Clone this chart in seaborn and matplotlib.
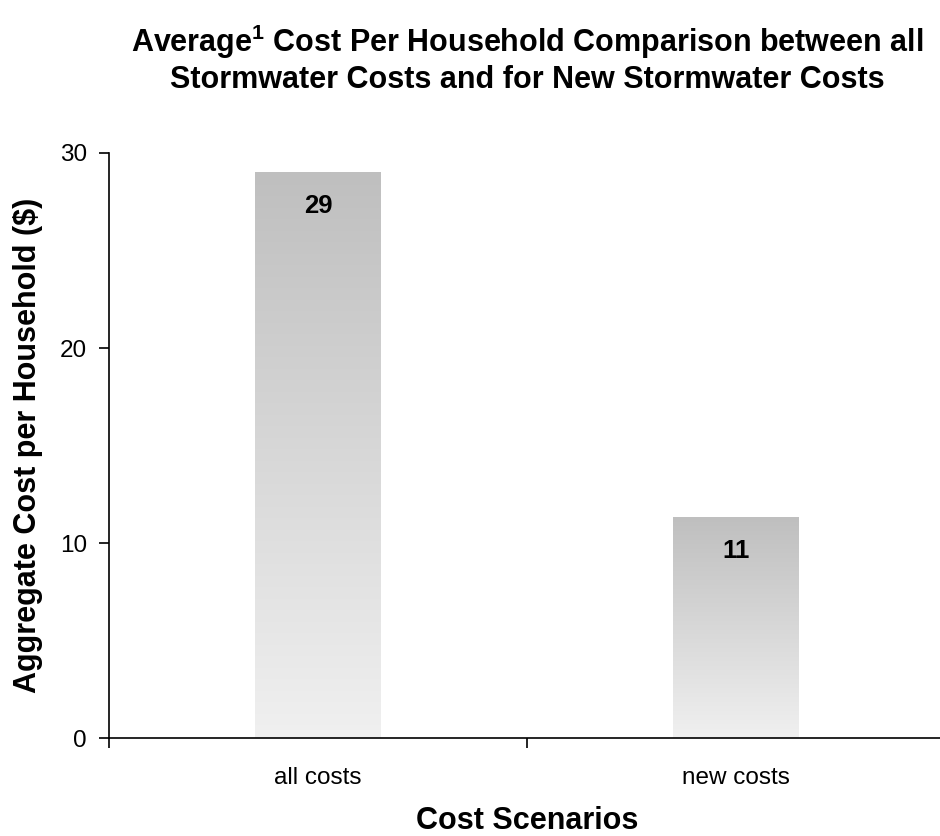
import numpy as np
import pandas as pd
import matplotlib
matplotlib.use("Agg")
import matplotlib.pyplot as plt
import seaborn as sns

# Cost scenarios and average cost per household ($)
scenarios = ["all costs", "new costs"]
cost_per_household = [29.0, 11.3]
y_ticks = [0, 10, 20, 30]

sns.set_theme(style="white")
plt.rcParams["font.family"] = ["Liberation Sans", "DejaVu Sans"]
plt.rcParams["mathtext.fontset"] = "custom"
plt.rcParams["mathtext.rm"] = "Liberation Sans"
plt.rcParams["mathtext.bf"] = "Liberation Sans:bold"
for key in ("text.color", "axes.labelcolor", "xtick.color", "ytick.color"):
    plt.rcParams[key] = "black"

df = pd.DataFrame({"scenario": scenarios, "cost": cost_per_household})

fig = plt.figure(figsize=(9.4, 8.36), dpi=100)
ax = fig.add_axes([0.116, 0.117, 0.889, 0.700])

sns.barplot(data=df, x="scenario", y="cost", ax=ax, width=0.30,
            color="#c0c0c0", edgecolor="none", linewidth=0)

# vertical grey gradient fill for each bar
gradient = np.linspace(0, 1, 256).reshape(-1, 1)
cmap = matplotlib.colors.LinearSegmentedColormap.from_list(
    "grey_fade", ["#bfbfbf", "#f0f0f0"])
for patch, val in zip(ax.patches, cost_per_household):
    x0 = patch.get_x()
    w = patch.get_width()
    h = patch.get_height()
    patch.set_visible(False)
    ax.imshow(gradient, cmap=cmap, aspect="auto", origin="upper",
              extent=[x0, x0 + w, 0, h], zorder=2, interpolation="bilinear")
    ax.text(x0 + w / 2, h - 1.7, f"{val:.0f}", ha="center", va="center",
            fontsize=18.5, fontweight="bold", color="black", zorder=3)

ax.set_xlim(-0.5, 1.5)
ax.set_ylim(0, 30)

# spines
sns.despine(ax=ax, top=True, right=True)
for side in ("left", "bottom"):
    ax.spines[side].set_color("black")
    ax.spines[side].set_linewidth(1.2)

# y ticks outward on the left
ax.set_yticks(y_ticks)
ax.set_yticklabels([str(t) for t in y_ticks], fontsize=17.5)
ax.tick_params(axis="y", which="major", direction="out", length=7, width=1.2,
               color="black", pad=9, left=True)

# x: tick marks at category boundaries, labels at category centres
ax.set_xticks([-0.5, 0.5, 1.5])
ax.set_xticklabels(["", "", ""])
ax.set_xticks([0, 1], minor=True)
ax.set_xticklabels(scenarios, minor=True, fontsize=17.5)
ax.tick_params(axis="x", which="major", direction="out", length=7, width=1.2,
               color="black", bottom=True)
ax.tick_params(axis="x", which="minor", length=0, pad=21)

ax.set_xlabel("Cost Scenarios", fontsize=22, fontweight="bold", labelpad=12)
ax.set_ylabel("Aggregate Cost per Household ($)", fontsize=22,
              fontweight="bold", labelpad=12)

ax.set_title("Average$^{\\mathbf{1}}$ Cost Per Household Comparison between all\n"
             "Stormwater Costs and for New Stormwater Costs",
             fontsize=22, fontweight="bold", pad=47, linespacing=1.15)

fig.savefig("out.png", dpi=100)
